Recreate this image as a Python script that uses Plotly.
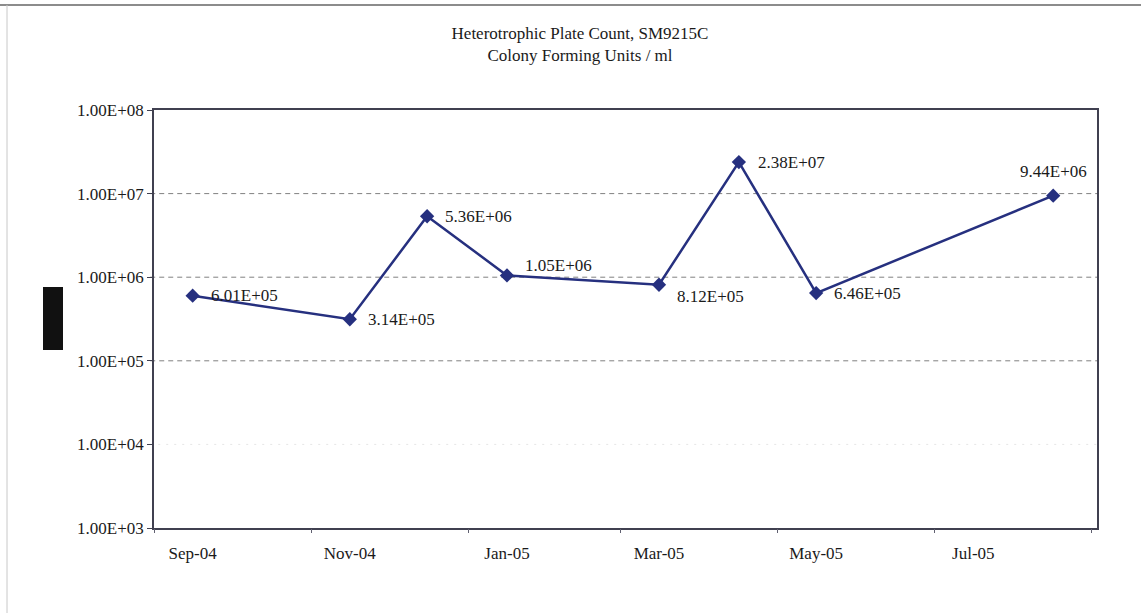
import numpy as np
import pandas as pd
import plotly.graph_objects as go

# ---- data ----
sample_dates = ["2004-09-01", "2004-11-01", "2004-12-01", "2005-01-01",
                "2005-03-01", "2005-04-01", "2005-05-01", "2005-08-01"]
cfu_values = [6.01e5, 3.14e5, 5.36e6, 1.05e6, 8.12e5, 2.38e7, 6.46e5, 9.44e6]

x_tick_dates = ["2004-09-01", "2004-11-01", "2005-01-01", "2005-03-01",
                "2005-05-01", "2005-07-01"]
x_tick_labels = ["Sep-04", "Nov-04", "Jan-05", "Mar-05", "May-05", "Jul-05"]
y_tick_vals = [1e3, 1e4, 1e5, 1e6, 1e7, 1e8]
y_tick_labels = ["1.00E+03", "1.00E+04", "1.00E+05", "1.00E+06", "1.00E+07", "1.00E+08"]

title_lines = ["Heterotrophic Plate Count, SM9215C", "Colony Forming Units / ml"]

# ---- styles ----
FONT = "Liberation Serif"
FS = 17
NAVY = "#26307f"
TXT = "#1a1a1a"
label_shift = [(16, 0), (16, 0), (16, 0), (16, 10), (16, -12), (17, 0), (16, 0), (0, 24)]
label_anchor = ["left"] * 7 + ["center"]

W, H = 1141, 613
L, R, T, B = 154, 44, 110, 85
Y_LOG_RANGE = [3, 8]

x_range = ["2004-08-17", "2005-08-18"]
tick_marks = [(pd.Timestamp(d) - pd.Timedelta(days=15)).strftime("%Y-%m-%d") for d in x_tick_dates]
tick_marks.append((pd.Timestamp(tick_marks[-1]) + pd.DateOffset(months=2)).strftime("%Y-%m-%d"))

fig = go.Figure()
fig.add_trace(go.Scatter(
    x=sample_dates, y=cfu_values, mode="lines+markers",
    line=dict(color=NAVY, width=2.5),
    marker=dict(symbol="diamond", size=11, color=NAVY),
    showlegend=False, hoverinfo="x+y",
))

# data labels
for i, (d, v) in enumerate(zip(sample_dates, cfu_values)):
    xs, ys = label_shift[i]
    fig.add_annotation(
        x=d, y=float(np.log10(v)), xref="x", yref="y", text=f"{v:.2E}",
        showarrow=False, xanchor=label_anchor[i], yanchor="middle",
        xshift=xs, yshift=ys, font=dict(family=FONT, size=FS, color=TXT),
    )

# gridlines (positioned in paper units derived from the log axis range)
shapes = []
for v in y_tick_vals[1:-1]:
    faint = v == 1e4
    yp = (float(np.log10(v)) - Y_LOG_RANGE[0]) / (Y_LOG_RANGE[1] - Y_LOG_RANGE[0])
    shapes.append(dict(
        type="line", xref="paper", yref="paper", x0=-0.004, x1=1, y0=yp, y1=yp,
        line=dict(color="#e6e6e6" if faint else "#808080", width=1,
                  dash="2px,6px" if faint else "5px,4px"),
        layer="below",
    ))
pw, ph = W - L - R, H - T - B
# outer frame lines
shapes.append(dict(type="line", xref="paper", yref="paper",
                   x0=(0 - L) / pw, x1=(W - L) / pw, y0=(H - B - 5) / ph, y1=(H - B - 5) / ph,
                   line=dict(color="#8c8c8c", width=2)))
shapes.append(dict(type="line", xref="paper", yref="paper",
                   x0=(7 - L) / pw, x1=(7 - L) / pw, y0=(H - B - 5) / ph, y1=(H - B - H) / ph,
                   line=dict(color="#c8c8c8", width=1)))
# redaction block where the axis title was
shapes.append(dict(type="rect", xref="paper", yref="paper",
                   x0=(43 - L) / pw, x1=(63 - L) / pw, y0=(H - B - 350) / ph, y1=(H - B - 287) / ph,
                   fillcolor="#111111", line=dict(width=0)))

fig.update_layout(
    width=W, height=H,
    margin=dict(l=L, r=R, t=T, b=B, pad=0),
    paper_bgcolor="white", plot_bgcolor="rgba(0,0,0,0)",
    shapes=shapes,
    title=dict(text="<br>".join(title_lines), xref="container", yref="container",
               x=580 / W, y=1 - 39 / H, xanchor="center", yanchor="middle",
               font=dict(family=FONT, size=FS, color=TXT)),
    xaxis=dict(type="date", range=x_range, tickvals=x_tick_dates, ticktext=x_tick_labels,
               ticks="", showgrid=False, showline=True, linecolor="#404050", linewidth=1.5,
               mirror=True, zeroline=False, tickfont=dict(family=FONT, size=FS, color=TXT),
               ticklabelstandoff=9),
    xaxis2=dict(type="date", range=x_range, overlaying="x", side="bottom",
                tickvals=tick_marks, showticklabels=False, ticks="outside", ticklen=4,
                tickcolor="#606070", showgrid=False, showline=False, zeroline=False),
    yaxis=dict(type="log", range=Y_LOG_RANGE, tickvals=y_tick_vals, ticktext=y_tick_labels,
               ticks="outside", ticklen=5, tickcolor="#404050", showgrid=False,
               showline=True, linecolor="#404050", linewidth=1.5, mirror=True, zeroline=False,
               tickfont=dict(family=FONT, size=FS, color=TXT)),
)
# invisible trace to activate xaxis2
fig.add_trace(go.Scatter(x=x_range, y=[1e3, 1e3], xaxis="x2", mode="lines",
                         line=dict(width=0), showlegend=False, hoverinfo="skip"))

fig.write_html("out.html", config={"displayModeBar": False},
               post_script="document.body.style.margin='0';")
